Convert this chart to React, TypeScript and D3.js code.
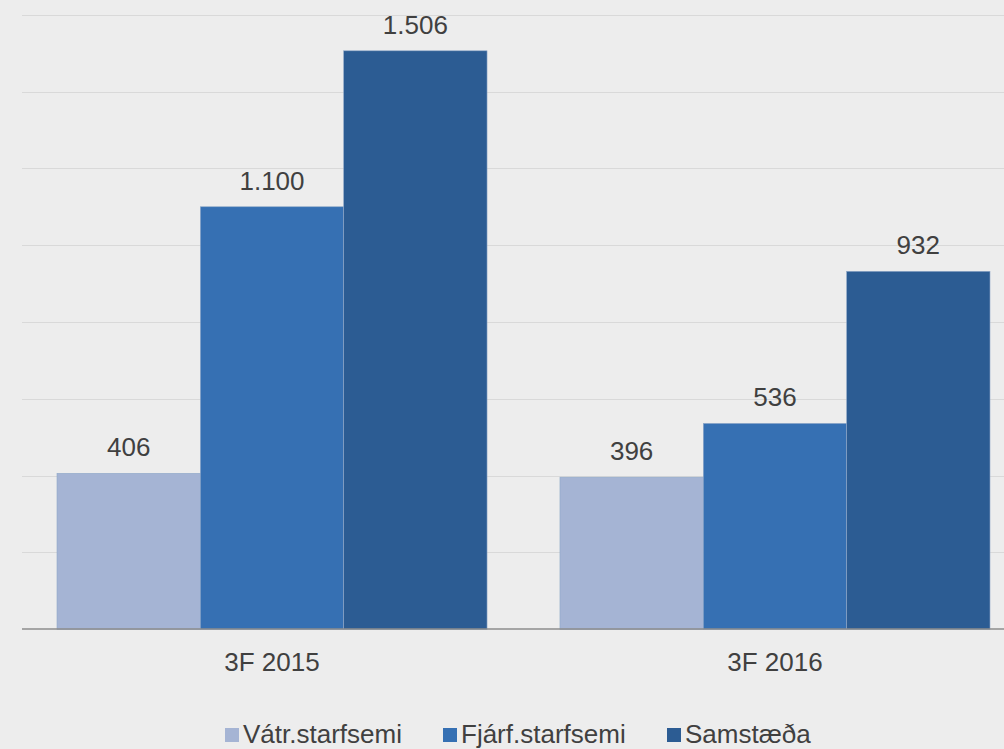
import React, { useEffect, useRef } from 'react'
import * as d3 from 'd3'

const categories = ['3F 2015', '3F 2016']
const seriesNames = ['Vátr.starfsemi', 'Fjárf.starfsemi', 'Samstæða']
const seriesColors = ['#a5b4d4', '#3670b3', '#2c5c93']
const values2015 = [406, 1100, 1506]
const values2016 = [396, 536, 932]
const gridTicks = [0, 200, 400, 600, 800, 1000, 1200, 1400, 1600]

const fmt = (v: number) => d3.format(',')(v).replace(/,/g, '.')

export default function App() {
  const svgRef = useRef<SVGSVGElement | null>(null)

  useEffect(() => {
    const svg = d3.select(svgRef.current)
    svg.selectAll('*').remove()

    const width = 1004
    const height = 749
    const font = 'Liberation Sans, Arial, sans-serif'

    svg.append('rect').attr('width', width).attr('height', height).attr('fill', '#ededed')

    const y = d3.scaleLinear().domain([0, 1600]).range([629.3, 14.7])
    const x0 = d3
      .scaleBand()
      .domain(categories)
      .range([22, 1025])
      .paddingInner(0.145)
      .paddingOuter(0.0696)
    const x1 = d3.scaleBand().domain(seriesNames).range([0, x0.bandwidth()])

    // gridlines
    svg
      .append('g')
      .selectAll('line')
      .data(gridTicks.slice(1))
      .enter()
      .append('line')
      .attr('x1', 22)
      .attr('x2', width)
      .attr('y1', (d) => Math.round(y(d)) + 0.5)
      .attr('y2', (d) => Math.round(y(d)) + 0.5)
      .attr('stroke', '#d9d9d9')
      .attr('stroke-width', 1)

    const data = [values2015, values2016]

    const groups = svg
      .append('g')
      .selectAll('g')
      .data(categories)
      .enter()
      .append('g')
      .attr('transform', (d) => `translate(${x0(d)},0)`)

    groups.each(function (cat, i) {
      const g = d3.select(this)
      const vals = data[i]
      seriesNames.forEach((s, j) => {
        g.append('rect')
          .attr('x', x1(s)!)
          .attr('y', y(vals[j]))
          .attr('width', x1.bandwidth())
          .attr('height', y(0) - y(vals[j]))
          .attr('fill', seriesColors[j])
          .attr('stroke', '#8fa8c8')
          .attr('stroke-width', 0.6)
        g.append('text')
          .attr('x', x1(s)! + x1.bandwidth() / 2)
          .attr('y', y(vals[j]) - 17)
          .attr('text-anchor', 'middle')
          .attr('font-family', font)
          .attr('font-size', 26)
          .attr('fill', '#404040')
          .text(fmt(vals[j]))
      })
      g.append('text')
        .attr('x', x0.bandwidth() / 2)
        .attr('y', 671)
        .attr('text-anchor', 'middle')
        .attr('font-family', font)
        .attr('font-size', 26)
        .attr('fill', '#404040')
        .text(cat)
    })

    // axis line
    svg
      .append('line')
      .attr('x1', 22)
      .attr('x2', width)
      .attr('y1', 629)
      .attr('y2', 629)
      .attr('stroke', '#8c8c8c')
      .attr('stroke-width', 1.5)

    // legend
    const legendX = [225, 443, 667]
    const legend = svg.append('g')
    seriesNames.forEach((s, j) => {
      legend
        .append('rect')
        .attr('x', legendX[j])
        .attr('y', 728)
        .attr('width', 14)
        .attr('height', 14)
        .attr('fill', seriesColors[j])
      legend
        .append('text')
        .attr('x', legendX[j] + 18)
        .attr('y', 743)
        .attr('font-family', font)
        .attr('font-size', 26)
        .attr('fill', '#404040')
        .text(s)
    })
  }, [])

  return (
    <svg
      ref={svgRef}
      width={1004}
      height={749}
      style={{ position: 'absolute', left: 0, top: 0, display: 'block' }}
    ></svg>
  )
}
